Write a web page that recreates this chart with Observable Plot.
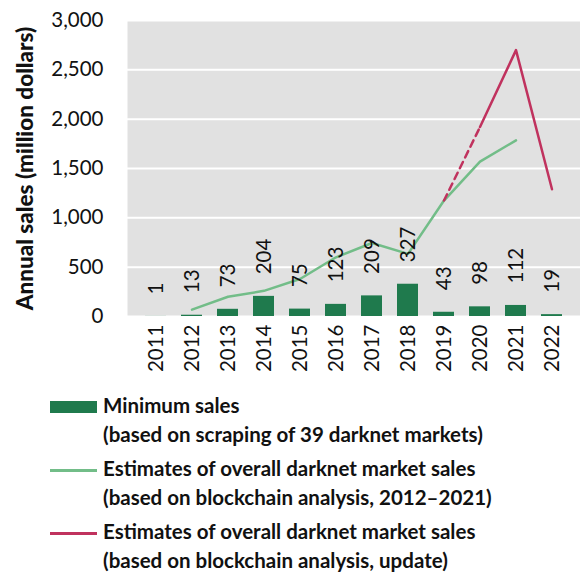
<!DOCTYPE html>
<html><head><meta charset="utf-8">
<script src="https://cdn.jsdelivr.net/npm/d3@7"></script>
<script src="https://cdn.jsdelivr.net/npm/@observablehq/plot@0.6"></script>
<style>
body{margin:0;background:#fff;font-family:Lato,"Open Sans",sans-serif;}
#legend{position:absolute;left:0;top:391px;font-weight:bold;font-size:20.5px;color:#111;line-height:29px;}
.row{display:flex;align-items:flex-start;}
.sw{width:47px;margin-left:50px;margin-right:6px;flex:none;}
</style></head>
<body>
<div id="chart"></div>
<div id="legend"></div>
<script>
const years = ["2011","2012","2013","2014","2015","2016","2017","2018","2019","2020","2021","2022"];
const minSales = [1,13,73,204,75,123,209,327,43,98,112,19];
const estYears = ["2012","2013","2014","2015","2016","2017","2018","2019","2020","2021"];
const estSales = [70,200,260,380,600,745,635,1175,1570,1785];
const updDashYears = ["2019","2020"];
const updDashSales = [1175,1920];
const updYears = ["2020","2021","2022"];
const updSales = [1920,2700,1290];
const yTicks = [0,500,1000,1500,2000,2500,3000];

const bars = years.map((y,i)=>({year:y, v:minSales[i]}));
const est = estYears.map((y,i)=>({year:y, v:estSales[i]}));
const dash = updDashYears.map((y,i)=>({year:y, v:updDashSales[i]}));
const upd = updYears.map((y,i)=>({year:y, v:updSales[i]}));

const C_BAR = "#1f7a4d", C_EST = "#72bd88", C_UPD = "#c0325e";

const chart = Plot.plot({
  width: 580, height: 380,
  marginLeft: 127, marginRight: 0, marginTop: 20, marginBottom: 64,
  style: {fontFamily: "Lato, sans-serif", fontSize: "20px", color: "#111", background: "#fff"},
  x: {type: "band", domain: years, padding: 0.42, label: null},
  y: {domain: [0, 3000], label: null},
  marks: [
    Plot.frame({fill: "#e1e1e1", stroke: null}),
    Plot.gridY(yTicks, {stroke: "#fff", strokeOpacity: 1, strokeWidth: 2}),
    Plot.barY(bars, {x: "year", y: "v", fill: C_BAR}),
    Plot.line(est, {x: "year", y: "v", stroke: C_EST, strokeWidth: 2.5}),
    Plot.line(dash, {x: "year", y: "v", stroke: C_UPD, strokeWidth: 2.5, strokeDasharray: "7,5"}),
    Plot.line(upd, {x: "year", y: "v", stroke: C_UPD, strokeWidth: 2.5}),
    Plot.text(bars, {x: "year", y: "v", text: d => String(d.v), rotate: -90, textAnchor: "start", dy: -22, fontSize: 20.5, fill: "#111"}),
    Plot.axisX({tickSize: 0, tickPadding: 8, tickRotate: -90, fontSize: 20.5, label: null}),
    Plot.axisY(yTicks, {tickSize: 0, tickPadding: 24, tickFormat: d3.format(","), fontSize: 20.5,
      label: "Annual sales (million dollars)", labelAnchor: "center", labelArrow: "none", labelOffset: 110})
  ]
});
document.getElementById("chart").appendChild(chart);
d3.select(chart).selectAll('[aria-label="y-axis label"] text').style("font-weight","900").style("font-size","22.5px");

const legendItems = [
  {type:"bar", color:C_BAR, lines:["Minimum sales","(based on scraping of 39 darknet markets)"]},
  {type:"line", color:C_EST, lines:["Estimates of overall darknet market sales","(based on blockchain analysis, 2012\u20132021)"]},
  {type:"line", color:C_UPD, lines:["Estimates of overall darknet market sales","(based on blockchain analysis, update)"]}
];
const lg = d3.select("#legend");
legendItems.forEach((it,i)=>{
  const row = lg.append("div").attr("class","row").style("margin-top", i? "5px":"0");
  row.append("div").attr("class","sw")
    .style("height", it.type==="bar" ? "12px" : "3px")
    .style("margin-top", it.type==="bar" ? "10px" : "15px")
    .style("background", it.color);
  const t = row.append("div");
  it.lines.forEach(l=>t.append("div").text(l));
});
</script>
</body></html>
